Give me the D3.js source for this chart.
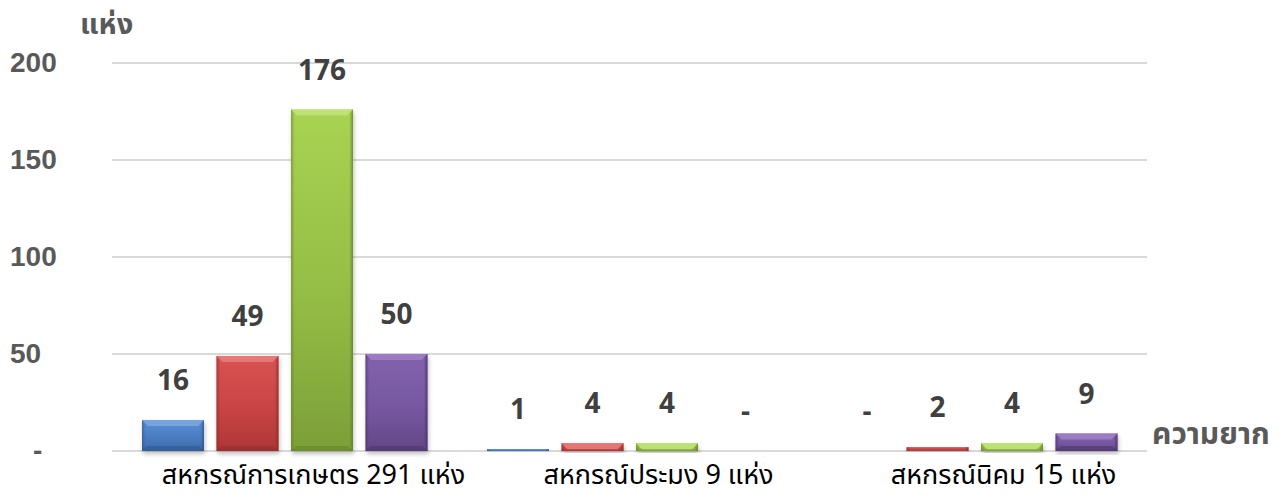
<!DOCTYPE html>
<html>
<head>
<meta charset="utf-8">
<script src="https://cdn.jsdelivr.net/npm/d3@7"></script>
<style>
  html, body { margin: 0; padding: 0; background: #ffffff; }
  svg { display: block; }
</style>
</head>
<body>
<svg id="chart" width="1282" height="498"></svg>
<script>
// ---- data ----
const categories = ["สหกรณ์การเกษตร 291 แห่ง", "สหกรณ์ประมง 9 แห่ง", "สหกรณ์นิคม 15 แห่ง"];
const seriesNames = ["s1", "s2", "s3", "s4"];
const series1 = [16, 1, 0];
const series2 = [49, 4, 2];
const series3 = [176, 4, 4];
const series4 = [50, 0, 9];
const yTicks = [0, 50, 100, 150, 200];
const yTitle = "แห่ง";
const xTitle = "ความยาก";

const seriesValues = [series1, series2, series3, series4];
const seriesColors = [
  { top: "#5b8fd3", mid: "#4a7dc2", bot: "#3b69a8", edge: "#2c5287", bev: "#7aa6e0" },
  { top: "#d85353", mid: "#c94444", bot: "#ae3636", edge: "#8a2727", bev: "#e77b7b" },
  { top: "#a8d352", mid: "#94bd45", bot: "#7c9f38", edge: "#5e7c25", bev: "#c0e377" },
  { top: "#8262ac", mid: "#7658a0", bot: "#634787", edge: "#463062", bev: "#9d80c6" }
];

const rows = categories.map((c, i) => ({
  cat: c,
  vals: seriesNames.map((s, j) => ({ key: s, idx: j, value: seriesValues[j][i] }))
}));

// ---- layout ----
const svg = d3.select("#chart");
const margin = { left: 112, right: 135, top: 63, bottom: 47 };
const W = 1282, H = 498;
const plotW = W - margin.left - margin.right;
const plotH = H - margin.top - margin.bottom;

const g = svg.append("g").attr("transform", `translate(${margin.left},${margin.top})`);

const x0 = d3.scaleBand().domain(categories).range([0, plotW]).padding(0);
const x1 = d3.scaleBand().domain(seriesNames)
  .range([30, 315.5]).paddingInner(0.168).paddingOuter(0);
const y = d3.scaleLinear().domain([0, 200]).range([plotH, 0]);

// defs: gradients
const defs = svg.append("defs");
seriesColors.forEach((c, i) => {
  const lg = defs.append("linearGradient").attr("id", "grad" + i)
    .attr("x1", 0).attr("y1", 0).attr("x2", 0).attr("y2", 1);
  lg.append("stop").attr("offset", "0%").attr("stop-color", c.top);
  lg.append("stop").attr("offset", "55%").attr("stop-color", c.mid);
  lg.append("stop").attr("offset", "100%").attr("stop-color", c.bot);
  const sg = defs.append("linearGradient").attr("id", "side" + i)
    .attr("x1", 0).attr("y1", 0).attr("x2", 1).attr("y2", 0);
  sg.append("stop").attr("offset", "0%").attr("stop-color", c.edge).attr("stop-opacity", 0.55);
  sg.append("stop").attr("offset", "6%").attr("stop-color", c.edge).attr("stop-opacity", 0);
  sg.append("stop").attr("offset", "94%").attr("stop-color", c.edge).attr("stop-opacity", 0);
  sg.append("stop").attr("offset", "100%").attr("stop-color", c.edge).attr("stop-opacity", 0.75);
});
const sh = defs.append("filter").attr("id", "shadow").attr("x", "-10%").attr("y", "-10%").attr("width", "130%").attr("height", "130%");
sh.append("feGaussianBlur").attr("in", "SourceAlpha").attr("stdDeviation", 2).attr("result", "b");
sh.append("feOffset").attr("in", "b").attr("dx", 1).attr("dy", 3).attr("result", "o");
sh.append("feComponentTransfer").attr("in", "o").attr("result", "o2")
  .append("feFuncA").attr("type", "linear").attr("slope", 0.25);
const fm = sh.append("feMerge");
fm.append("feMergeNode").attr("in", "o2");
fm.append("feMergeNode").attr("in", "SourceGraphic");

// gridlines
g.append("g").selectAll("line").data(yTicks).join("line")
  .attr("x1", 0).attr("x2", plotW)
  .attr("y1", d => y(d)).attr("y2", d => y(d))
  .attr("stroke", "#d9d9d9").attr("stroke-width", 2);

// y tick labels
svg.append("g").selectAll("text").data(yTicks).join("text")
  .attr("x", d => d === 0 ? 33 : 10)
  .attr("y", d => margin.top + y(d) + 9)
  .attr("font-family", "Liberation Sans, Arial, sans-serif")
  .attr("font-size", 28).attr("font-weight", "bold")
  .attr("fill", "#595959")
  .text(d => d === 0 ? "-" : d);

// bars
const groups = g.append("g").selectAll("g").data(rows).join("g")
  .attr("transform", d => `translate(${x0(d.cat)},0)`);

const bars = groups.selectAll("g.bar").data(d => d.vals.filter(v => v.value > 0)).join("g")
  .attr("class", "bar").attr("filter", "url(#shadow)");

bars.append("rect")
  .attr("x", d => x1(d.key)).attr("width", x1.bandwidth())
  .attr("y", d => y(d.value)).attr("height", d => Math.max(2, y(0) - y(d.value)))
  .attr("fill", d => `url(#grad${d.idx})`);
bars.append("rect")
  .attr("x", d => x1(d.key)).attr("width", x1.bandwidth())
  .attr("y", d => y(d.value)).attr("height", d => Math.max(2, y(0) - y(d.value)))
  .attr("fill", d => `url(#side${d.idx})`);
// top bevel
bars.filter(d => y(0) - y(d.value) > 6).append("path")
  .attr("d", d => {
    const xl = x1(d.key), xr = xl + x1.bandwidth(), t = y(d.value), b = 6;
    return `M${xl},${t}L${xr},${t}L${xr - b},${t + b}L${xl + b},${t + b}Z`;
  })
  .attr("fill", d => seriesColors[d.idx].bev).attr("opacity", 0.9);
// bottom bevel
bars.filter(d => y(0) - y(d.value) > 14).append("path")
  .attr("d", d => {
    const xl = x1(d.key), xr = xl + x1.bandwidth(), bt = y(0), b = 5;
    return `M${xl},${bt}L${xr},${bt}L${xr - b},${bt - b}L${xl + b},${bt - b}Z`;
  })
  .attr("fill", d => seriesColors[d.idx].edge).attr("opacity", 0.45);

// value labels
groups.selectAll("text.val").data(d => d.vals).join("text")
  .attr("class", "val")
  .attr("x", d => x1(d.key) + x1.bandwidth() / 2 + (d.value === 0 ? 4 : 0))
  .attr("y", d => y(d.value) - 30)
  .attr("text-anchor", "middle")
  .attr("font-family", "Open Sans, Lato, sans-serif")
  .attr("font-size", 28).attr("font-weight", "bold")
  .attr("fill", "#404040")
  .text(d => d.value === 0 ? "-" : d.value);

// x labels
g.append("g").selectAll("text").data(categories).join("text")
  .attr("x", d => x0(d) + x0.bandwidth() / 2 + 29)
  .attr("y", plotH + 33)
  .attr("text-anchor", "middle")
  .attr("font-family", "Noto Sans Thai, Tahoma, Noto Sans, sans-serif")
  .attr("font-size", 27)
  .attr("fill", "#000000")
  .text(d => d);

// axis titles
svg.append("text").attr("x", 80).attr("y", 34)
  .attr("font-family", "Noto Sans Thai, Tahoma, Noto Sans, sans-serif")
  .attr("font-size", 29).attr("font-weight", "bold").attr("fill", "#595959")
  .text(yTitle);
svg.append("text").attr("x", 1152).attr("y", 444)
  .attr("font-family", "Noto Sans Thai, Tahoma, Noto Sans, sans-serif")
  .attr("font-size", 30).attr("font-weight", "bold").attr("fill", "#595959")
  .text(xTitle);
</script>
</body>
</html>
